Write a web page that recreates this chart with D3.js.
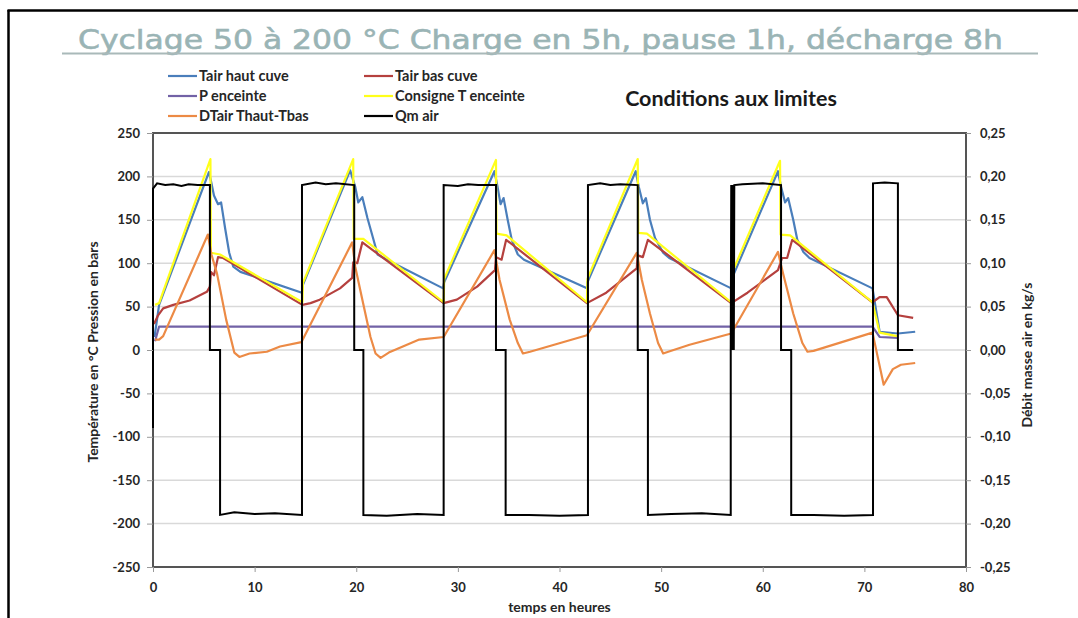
<!DOCTYPE html>
<html>
<head>
<meta charset="utf-8">
<script src="https://cdn.jsdelivr.net/npm/d3@7"></script>
<style>
body { margin: 0; background: #fff; }
text { font-family: Lato, "Open Sans", sans-serif; }
</style>
</head>
<body>
<div id="chart"></div>
<script>
// series names and colours (Excel order)
var seriesNames = ['Tair haut cuve', 'Tair bas cuve', 'P enceinte', 'Consigne T enceinte', 'DTair Thaut-Tbas', 'Qm air'];
var seriesColors = ['#4a7ebb', '#b5403e', '#7262a6', '#ffff1a', '#ec8a45', '#000000'];

// [heures, valeur]
var tairHaut = [[0.15, 15], [0.6, 52], [5.5, 205], [5.7, 195], [6.0, 178], [6.4, 168], [6.7, 170], [7.1, 140], [7.5, 112], [7.9, 96], [8.6, 90], [14.65, 66],
  [14.75, 75], [19.4, 207], [19.9, 188], [20.2, 170], [20.6, 176], [21.1, 152], [21.7, 127], [22.1, 110], [23.0, 104], [28.55, 71],
  [28.65, 78], [33.6, 206], [33.9, 188], [34.2, 168], [34.5, 175], [34.9, 150], [35.3, 127], [35.9, 110], [36.5, 104], [42.7, 71],
  [42.75, 78], [47.5, 206], [47.8, 188], [48.2, 169], [48.5, 175], [48.9, 150], [49.4, 129], [50.2, 112], [50.8, 106], [56.9, 71],
  [56.95, 82], [61.5, 206], [61.8, 188], [62.2, 170], [62.5, 175], [63.0, 150], [63.4, 127], [64.0, 113], [64.6, 106], [70.8, 71],
  [71.5, 21], [73.3, 19], [75, 21]];

var tairBas = [[0.1, 30], [0.5, 40], [1.0, 48], [2.0, 52], [3.6, 57], [5.3, 67], [5.6, 73], [5.7, 90], [6.0, 86], [6.4, 107], [6.9, 106], [14.7, 52],
  [15.5, 54], [16.4, 58], [18.4, 71], [19.6, 83], [19.7, 101], [20.1, 100], [20.6, 124], [28.6, 54],
  [29.9, 58], [31.9, 73], [33.65, 92], [33.75, 107], [34.3, 104], [34.75, 127], [42.7, 54],
  [44.6, 66], [47.6, 94], [47.7, 109], [48.2, 107], [48.7, 127], [56.9, 54],
  [58.5, 66], [61.5, 92], [61.9, 106], [62.4, 106], [62.9, 127], [70.8, 55],
  [71.5, 61], [72.2, 61], [73.3, 40], [74.8, 37]];

var pEnceinte = [[0.2, 10], [0.6, 27], [70.8, 27], [71.5, 15], [73.3, 14]];

var consigne = [[0.2, 52], [0.6, 54], [5.65, 220], [5.7, 112], [6.6, 110], [14.7, 55],
  [14.75, 77], [19.7, 220], [19.75, 128], [20.7, 128], [28.6, 55],
  [28.65, 82], [33.75, 219], [33.8, 134], [34.8, 132], [42.7, 55],
  [42.75, 82], [47.7, 220], [47.75, 135], [48.6, 134], [56.9, 55],
  [56.95, 88], [61.7, 218], [61.75, 133], [62.7, 132], [70.8, 55],
  [71.5, 20], [73.2, 16]];

var dTair = [[0.2, 12], [0.6, 12], [1.0, 16], [5.4, 133], [5.75, 110], [6.3, 88], [7.2, 35], [8.0, -3], [8.5, -8], [9.5, -4], [11.2, -2], [12.5, 4], [14.6, 9],
  [19.6, 124], [19.9, 96], [20.6, 58], [21.4, 15], [21.9, -4], [22.4, -9], [23.2, -3], [26.2, 12], [28.6, 15],
  [33.6, 115], [34.1, 81], [35.1, 35], [35.9, 8], [36.4, -4], [37.1, -2], [42.7, 17],
  [47.6, 112], [48.1, 81], [48.9, 42], [49.7, 8], [50.2, -4], [50.7, -2], [52.8, 6], [56.9, 19],
  [61.5, 113], [62.0, 88], [63.0, 42], [63.9, 8], [64.4, -2], [65.0, -1], [70.8, 20],
  [71.9, -40], [72.8, -22], [73.6, -17], [75, -15]];

var qmAir = [[0, -0.09], [0, 0.186], [0.4, 0.192], [1.2, 0.19], [2, 0.191], [2.8, 0.189], [3.5, 0.191], [4.4, 0.19], [5.6, 0.19], [5.6, 0], [6.6, 0], [6.6, -0.19], [8, -0.187], [10, -0.189], [12, -0.188], [14.66, -0.19],
  [14.66, 0.19], [16, 0.193], [17, 0.191], [18, 0.192], [19.8, 0.19], [19.8, 0], [20.7, 0], [20.7, -0.19], [23, -0.191], [26, -0.189], [28.6, -0.19],
  [28.6, 0.19], [30, 0.189], [31, 0.191], [32, 0.19], [33.75, 0.19], [33.75, 0], [34.7, 0], [34.7, -0.19], [37, -0.19], [40, -0.191], [42.8, -0.19],
  [42.8, 0.19], [44, 0.192], [45, 0.19], [46, 0.191], [47.7, 0.19], [47.7, 0], [48.7, 0], [48.7, -0.19], [51, -0.189], [54, -0.188], [56.85, -0.19],
  [56.85, 0], [56.9, 0.19], [56.95, 0], [57.0, 0.19], [57.05, 0], [57.1, 0.19], [57.15, 0], [57.2, 0.19], [58, 0.191], [60, 0.192], [61.8, 0.19], [61.8, 0], [62.8, 0], [62.8, -0.19], [65, -0.19], [68, -0.191], [70.85, -0.19],
  [70.85, 0.192], [72, 0.193], [73.3, 0.192], [73.3, 0], [74.8, 0]];

var xTicks = [0, 10, 20, 30, 40, 50, 60, 70, 80];
var yTicks = [-250, -200, -150, -100, -50, 0, 50, 100, 150, 200, 250];
var y2Ticks = [-0.25, -0.2, -0.15, -0.1, -0.05, 0, 0.05, 0.1, 0.15, 0.2, 0.25];

var margin = { top: 133, right: 112, bottom: 51, left: 153 },
    width = 1078 - margin.left - margin.right,
    height = 618 - margin.top - margin.bottom;

var svg = d3.select("#chart").append("svg")
    .attr("width", 1078)
    .attr("height", 618);

// page frame
svg.append("line").attr("x1", 7.5).attr("y1", 10.5).attr("x2", 1078).attr("y2", 10.5)
    .attr("stroke", "#000").attr("stroke-width", 2.5);
svg.append("line").attr("x1", 8.5).attr("y1", 10).attr("x2", 8.5).attr("y2", 618)
    .attr("stroke", "#000").attr("stroke-width", 2.5);

// slide title
svg.append("text")
    .attr("x", 540.5).attr("y", 49)
    .attr("text-anchor", "middle")
    .attr("textLength", 925).attr("lengthAdjust", "spacingAndGlyphs")
    .style("font-family", "'DejaVu Sans', sans-serif")
    .style("font-size", "27px")
    .style("fill", "#9ab4b5")
    .style("stroke", "#9ab4b5").style("stroke-width", 0.6)
    .text("Cyclage 50 à 200 °C Charge en 5h, pause 1h, décharge 8h");
svg.append("line").attr("x1", 62).attr("y1", 53.5).attr("x2", 1038).attr("y2", 53.5)
    .attr("stroke", "#a9b9b9").attr("stroke-width", 2);

var x = d3.scaleLinear().domain([0, 80]).range([0, width]);
var y = d3.scaleLinear().domain([-250, 250]).range([height, 0]);
var y2 = d3.scaleLinear().domain([-0.25, 0.25]).range([height, 0]);

var g = svg.append("g")
    .attr("transform", "translate(" + margin.left + "," + margin.top + ")");

// gridlines
g.append("g").selectAll("line")
    .data(yTicks.slice(1, -1))
    .join("line")
    .attr("x1", 0).attr("x2", width)
    .attr("y1", d => y(d)).attr("y2", d => y(d))
    .attr("stroke", "#d9d9d9").attr("stroke-width", 1.5);

// plot border under the series
g.append("rect")
    .attr("width", width).attr("height", height)
    .attr("fill", "none")
    .attr("stroke", "#555").attr("stroke-width", 2);

g.append("clipPath").attr("id", "clip")
    .append("rect").attr("x", -2).attr("y", -2).attr("width", width + 4).attr("height", height + 4);

var line1 = d3.line().x(d => x(d[0])).y(d => y(d[1]));
var line2 = d3.line().x(d => x(d[0])).y(d => y2(d[1]));

var plot = g.append("g").attr("clip-path", "url(#clip)");
var leftSeries = [tairHaut, tairBas, pEnceinte, consigne, dTair];
leftSeries.forEach(function (s, i) {
    plot.append("path")
        .datum(s)
        .attr("d", line1)
        .attr("fill", "none")
        .attr("stroke", seriesColors[i])
        .attr("stroke-width", 2.2)
        .attr("stroke-linejoin", "round");
});
plot.append("path")
    .datum(qmAir)
    .attr("d", line2)
    .attr("fill", "none")
    .attr("stroke", seriesColors[5])
    .attr("stroke-width", 2);

// axes
function styleAxis(sel) {
    sel.select(".domain").remove();
    sel.selectAll(".tick line").attr("stroke", "#999");
    sel.selectAll("text")
        .style("font-size", "13px")
        .style("font-weight", "bold")
        .style("fill", "#262626")
        .style("font-family", "Lato, sans-serif");
}
g.append("g")
    .call(d3.axisLeft(y).tickValues(yTicks).tickFormat(d => String(d)).tickSize(6).tickPadding(7))
    .call(styleAxis);
g.append("g")
    .attr("transform", "translate(" + width + ",0)")
    .call(d3.axisRight(y2).tickValues(y2Ticks)
        .tickFormat(d => d3.format(".2f")(d).replace("−", "-").replace(".", ","))
        .tickSize(5).tickPadding(9))
    .call(styleAxis);
g.append("g")
    .attr("transform", "translate(0," + height + ")")
    .call(d3.axisBottom(x).tickValues(xTicks).tickFormat(d => String(d)).tickSize(5).tickPadding(11))
    .call(styleAxis);

// axis titles
svg.append("text")
    .attr("x", margin.left + width / 2).attr("y", 612)
    .attr("text-anchor", "middle")
    .style("font-size", "14px").style("font-weight", "bold").style("fill", "#262626")
    .text("temps en heures");
svg.append("text")
    .attr("transform", "translate(98,352) rotate(-90)")
    .attr("text-anchor", "middle")
    .style("font-size", "14px").style("font-weight", "bold").style("fill", "#262626")
    .text("Température en °C Pression en bars");
svg.append("text")
    .attr("transform", "translate(1032,355) rotate(-90)")
    .attr("text-anchor", "middle")
    .style("font-size", "14px").style("font-weight", "bold").style("fill", "#262626")
    .text("Débit masse air en kg/s");

// chart title
svg.append("text")
    .attr("x", 731).attr("y", 106)
    .attr("text-anchor", "middle")
    .style("font-size", "21.5px").style("font-weight", "bold").style("fill", "#1a1a1a")
    .text("Conditions aux limites");

// legend, two columns, row-major like Excel
var legX = [168, 364], legY = [76, 96, 116];
var leg = svg.append("g").selectAll("g")
    .data(seriesNames)
    .join("g")
    .attr("transform", (d, i) => "translate(" + legX[i % 2] + "," + legY[Math.floor(i / 2)] + ")");
leg.append("line")
    .attr("x1", 0).attr("x2", 29)
    .attr("stroke", (d, i) => seriesColors[i])
    .attr("stroke-width", 2.2);
leg.append("text")
    .attr("x", 31).attr("dy", "0.35em")
    .style("font-size", "14.5px").style("font-weight", "bold").style("fill", "#262626")
    .text(d => d);
</script>
</body>
</html>
